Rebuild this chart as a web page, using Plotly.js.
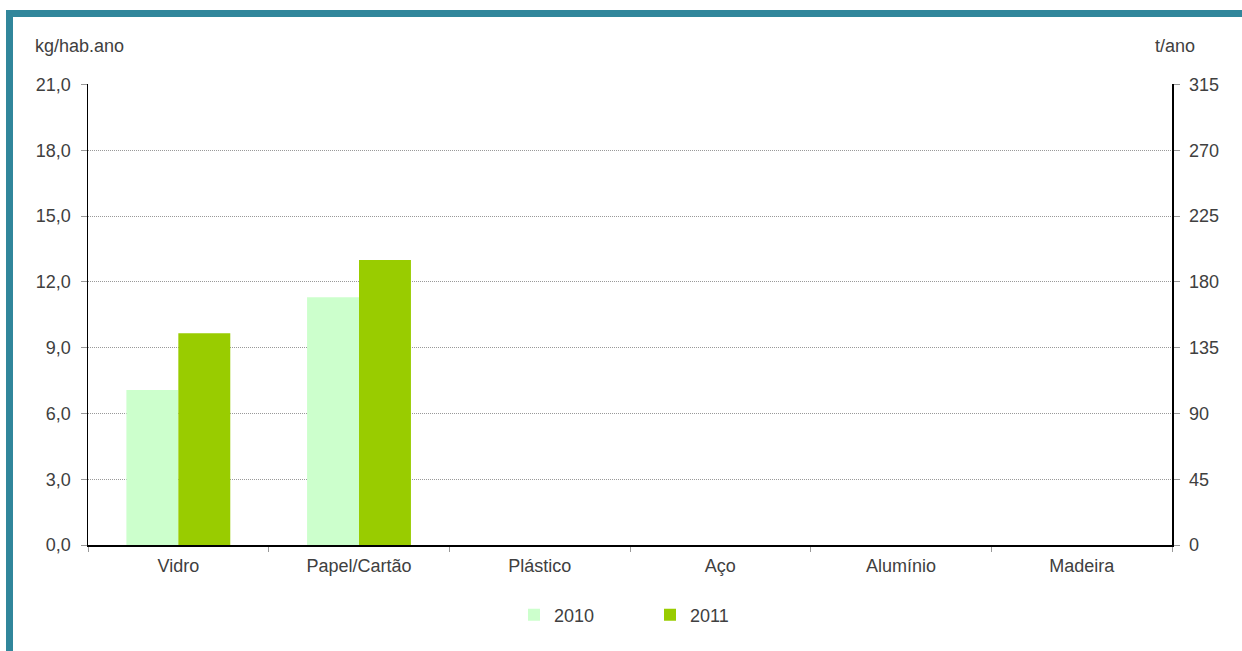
<!DOCTYPE html>
<html>
<head>
<meta charset="utf-8">
<script src="https://cdn.plot.ly/plotly-3.0.1.min.js"></script>
<style>
html,body{margin:0;padding:0;background:#fff;}
#wrap{position:relative;width:1242px;height:651px;overflow:hidden;}
#chart{position:absolute;left:0;top:0;width:1242px;height:651px;}
.bt{position:absolute;left:6px;top:10px;width:1236px;height:7px;background:#31869B;}
.bl{position:absolute;left:6px;top:10px;width:7px;height:641px;background:#31869B;}
</style>
</head>
<body>
<div id="wrap">
<div id="chart"></div>
<div class="bt"></div>
<div class="bl"></div>
</div>
<script>
const categories = ["Vidro", "Papel/Cartão", "Plástico", "Aço", "Alumínio", "Madeira"];
const values2010 = [7.07, 11.3, null, null, null, null];
const values2011 = [9.65, 13.0, null, null, null, null];
const valuesTonnes = [null, null, null, null, null, null];
const leftTicks = [0, 3, 6, 9, 12, 15, 18, 21];
const rightTicks = [0, 45, 90, 135, 180, 225, 270, 315];

const fam = "'Liberation Sans', Arial, sans-serif";
const txt = {family: fam, size: 18, color: "#404040"};

const data = [
  {type: "bar", name: "2010", x: categories, y: values2010, marker: {color: "#CCFFCC"}, hoverinfo: "skip"},
  {type: "bar", name: "2011", x: categories, y: values2011, marker: {color: "#99CC00"}, hoverinfo: "skip"},
  {type: "scatter", mode: "markers", name: "t/ano", x: categories, y: valuesTonnes, yaxis: "y2", showlegend: false, hoverinfo: "skip"}
];

const layout = {
  width: 1242, height: 651,
  margin: {l: 88, r: 70, t: 84, b: 106},
  paper_bgcolor: "#fff", plot_bgcolor: "#fff",
  font: txt,
  separators: ",.",
  barmode: "group",
  bargap: 0.425, bargroupgap: 0,
  showlegend: true,
  legend: {orientation: "h", x: 0.5 + 20 / 1084, xanchor: "center", y: -0.152, yanchor: "middle",
           font: txt, entrywidth: 91, entrywidthmode: "pixels", traceorder: "normal"},
  xaxis: {
    type: "category", showline: true, linecolor: "#000", linewidth: 1.5,
    ticks: "outside", tickson: "boundaries", ticklen: 5, tickcolor: "#999",
    showgrid: false, tickfont: txt, ticklabelstandoff: 4
  },
  yaxis: {
    range: [0, 21.02], tickvals: leftTicks, tickformat: ".1f",
    showline: true, linecolor: "#000", linewidth: 1.5,
    ticks: "outside", ticklen: 6, tickcolor: "#999",
    showgrid: true, gridcolor: "#999", griddash: "1px,1px", gridwidth: 1,
    zeroline: false, tickfont: txt, ticklabelstandoff: 6
  },
  yaxis2: {
    overlaying: "y", side: "right", range: [0, 315.3], tickvals: rightTicks,
    showline: true, linecolor: "#000", linewidth: 1.5,
    ticks: "outside", ticklen: 6, tickcolor: "#999",
    showgrid: false, zeroline: false, tickfont: txt, ticklabelstandoff: 6
  },
  annotations: [
    {text: "kg/hab.ano", xref: "paper", yref: "paper", x: (33 - 88) / 1084, y: 1 + 38 / 461, xanchor: "left", yanchor: "middle", showarrow: false, font: txt},
    {text: "t/ano", xref: "paper", yref: "paper", x: (1197 - 88) / 1084, y: 1 + 38 / 461, xanchor: "right", yanchor: "middle", showarrow: false, font: txt}
  ]
};

Plotly.newPlot("chart", data, layout, {displayModeBar: false, staticPlot: true});
</script>
</body>
</html>
